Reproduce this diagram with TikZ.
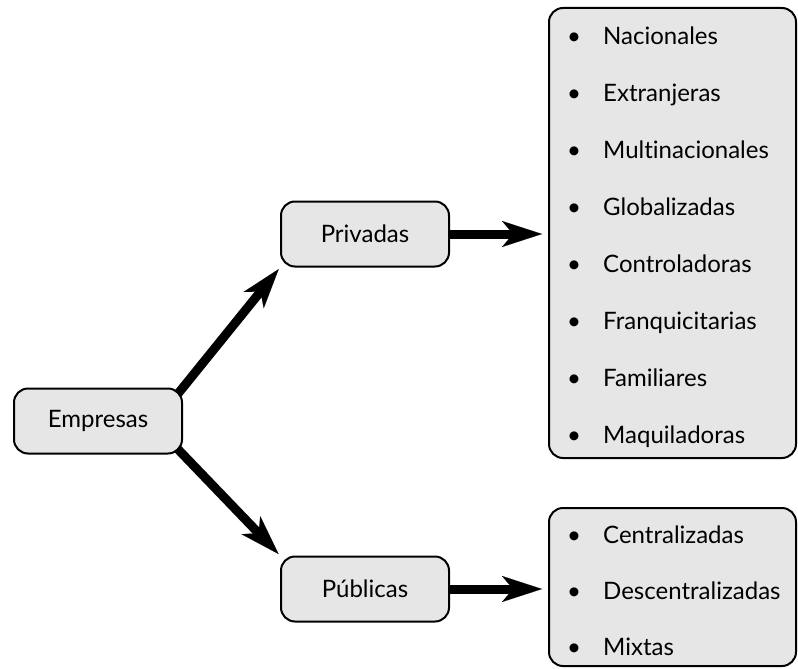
\documentclass[tikz,border=0pt]{standalone}
\usepackage{fontspec}
\setmainfont{Lato}[Ligatures=NoCommon]
\usetikzlibrary{arrows.meta}
\definecolor{boxgray}{HTML}{E6E6E6}
\begin{document}
\begin{tikzpicture}[x=1pt, y=-1pt,
    every node/.style={font=\fontsize{24}{28}\selectfont},
    box/.style={rectangle, draw, line width=2pt, rounded corners=14pt, fill=boxgray,
        minimum width=168pt, minimum height=65pt},
    listbox/.style={rectangle, draw, line width=2pt, rounded corners=14pt, fill=boxgray,
        minimum width=247pt},
    item/.style={anchor=base west, inner sep=0pt},
    fat/.style={line width=9pt, -{Stealth[length=40pt, width=26pt, inset=11pt, line width=0.1pt]}}]
    \useasboundingbox (0,0) rectangle (798,669);
    \node[box] (emp) at (98,421) {Empresas};
    \node[box] (priv) at (365,234) {Privadas};
    \node[box] (pub) at (365,589) {Públicas};
    \node[listbox, minimum height=450pt] (lpriv) at (672.5,233) {};
    \node[listbox, minimum height=158pt] (lpub) at (672.5,587) {};
    \foreach \t [count=\i from 0] in {Nacionales, Extranjeras, Multinacionales, Globalizadas,
        Controladoras, Franquicitarias, Familiares, Maquiladoras}
        \node[item] (priv\i) at (567, 45+56.9*\i) {\makebox[36pt][l]{•}\t};
    \foreach \t [count=\i from 0] in {Centralizadas, Descentralizadas, Mixtas}
        \node[item] (pub\i) at (567, 543+56*\i) {\makebox[36pt][l]{•}\t};
    \draw[fat, shorten <=-8pt, shorten >=2pt] (emp.north east) -- (priv.south west);
    \draw[fat, shorten <=-8pt, shorten >=2pt] (emp.south east) -- (pub.north west);
    \draw[fat, shorten >=6pt] (priv.east) -- (lpriv.west |- priv.east);
    \draw[fat, shorten >=6pt] (pub.east) -- (lpub.west |- pub.east);
\end{tikzpicture}
\end{document}
